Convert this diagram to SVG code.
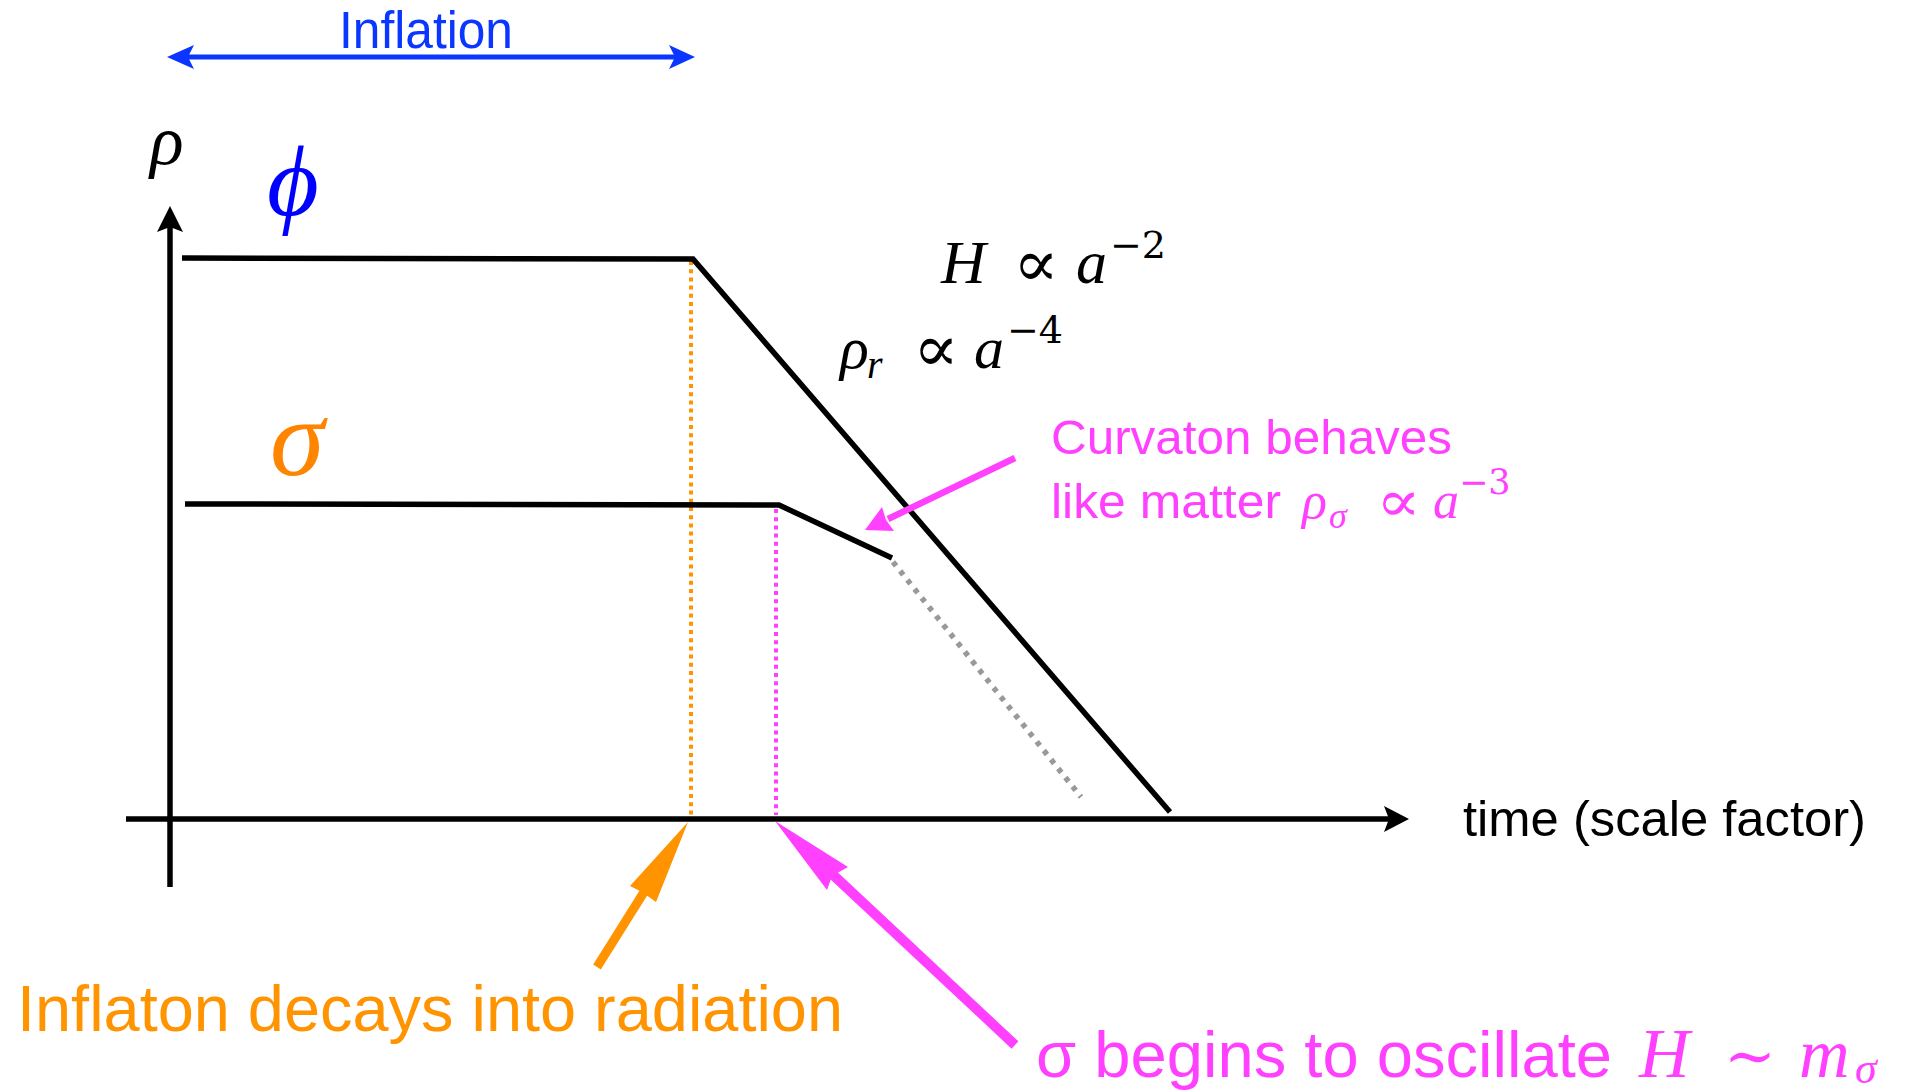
<svg xmlns="http://www.w3.org/2000/svg" width="1916" height="1091" viewBox="0 0 1916 1091">
  <style>
    .sans { font-family: "Liberation Sans", Arial, sans-serif; }
    .math { font-family: "Liberation Serif", "DejaVu Serif", serif; font-style: italic; }
    .sym { font-family: "DejaVu Serif", "Liberation Serif", serif; font-style: normal; }
    .prop { font-family: "DejaVu Sans", "DejaVu Serif", sans-serif; font-style: normal; font-weight: 200; }
    .ax { fill: none; stroke: #000; stroke-width: 5.5; }
    .curve { fill: none; stroke: #000; stroke-width: 5.5; stroke-linejoin: miter; }
    .orange { fill: #ff9300; }
    .magenta { fill: #ff40ff; }
  </style>
  <rect width="1916" height="1091" fill="#fff"/>

  <g id="axes">
    <line class="ax" x1="170" y1="226" x2="170" y2="887"/>
    <polygon points="170,206 183,232 170,227 157,232" fill="#000"/>
    <line class="ax" x1="126" y1="819" x2="1392" y2="819"/>
    <polygon points="1409,819 1384,832 1389,819 1384,806" fill="#000"/>
  </g>

  <g id="rho-label">
    <text class="math" x="150" y="164" font-size="70" fill="#000">ρ</text>
  </g>

  <g id="time-label">
    <text class="sans" x="1463" y="836" font-size="50" textLength="403" lengthAdjust="spacingAndGlyphs" fill="#000">time (scale factor)</text>
  </g>

  <g id="inflation-label">
    <text class="sans" x="339" y="48" font-size="51" textLength="174" lengthAdjust="spacingAndGlyphs" fill="#0a36ff">Inflation</text>
  </g>

  <g id="phi-label">
    <text class="math" x="293" y="215" font-size="100" text-anchor="middle" fill="#0000ff">ϕ</text>
  </g>

  <g id="sigma-label">
    <text class="math" x="297" y="475" font-size="110" text-anchor="middle" fill="#ff8500">σ</text>
  </g>

  <g id="guides">
    <line x1="691" y1="261" x2="691" y2="815" stroke="#ff9300" stroke-width="4" stroke-dasharray="4 4.2"/>
    <line x1="776" y1="509" x2="776" y2="815" stroke="#ff40ff" stroke-width="4" stroke-dasharray="4 4.2"/>
    <line x1="893" y1="562" x2="1081" y2="797" stroke="#999" stroke-width="5.5" stroke-dasharray="5 6.5"/>
  </g>

  <g id="phi-curve">
    <polyline class="curve" points="182,258 693,259 1170,812"/>
  </g>

  <g id="sigma-curve">
    <polyline class="curve" points="185,504 779,505 892,558"/>
  </g>

  <g id="hubble-label">
    <text class="math" y="283" font-size="62" fill="#000"><tspan x="941">H</tspan><tspan x="1076">a</tspan><tspan class="sym" x="1110" y="258" font-size="38">−2</tspan></text>
    <text class="prop" x="1013" y="286" font-size="66" textLength="46" lengthAdjust="spacingAndGlyphs" fill="#000">∝</text>
  </g>

  <g id="radiation-label">
    <text class="math" y="368" font-size="60" fill="#000"><tspan x="840">ρ</tspan><tspan x="867" y="378" font-size="40">r</tspan><tspan x="974" y="368">a</tspan><tspan class="sym" x="1007" y="343" font-size="38">−4</tspan></text>
    <text class="prop" x="913" y="371" font-size="66" textLength="46" lengthAdjust="spacingAndGlyphs" fill="#000">∝</text>
  </g>

  <g id="curvaton-label">
    <text class="sans magenta" x="1051" y="454" font-size="49" textLength="401" lengthAdjust="spacingAndGlyphs">Curvaton behaves</text>
    <text class="sans magenta" x="1051" y="518" font-size="49" textLength="230" lengthAdjust="spacingAndGlyphs">like matter</text>
    <text class="math magenta" y="518" font-size="52"><tspan x="1302">ρ</tspan><tspan x="1329" y="528" font-size="36">σ</tspan><tspan x="1433" y="518">a</tspan><tspan class="sym" x="1459" y="494" font-size="35">−3</tspan></text>
    <text class="prop magenta" x="1376" y="521" font-size="58" textLength="45" lengthAdjust="spacingAndGlyphs">∝</text>
  </g>

  <g id="inflaton-decay-label">
    <text class="sans orange" x="17" y="1031" font-size="64" textLength="826" lengthAdjust="spacingAndGlyphs">Inflaton decays into radiation</text>
  </g>

  <g id="oscillate-label">
    <text class="sans magenta" x="1036" y="1077" font-size="65" textLength="576" lengthAdjust="spacingAndGlyphs">σ begins to oscillate</text>
    <text class="math magenta" y="1077" font-size="70"><tspan x="1639">H</tspan><tspan class="sym" x="1724" font-size="62">∼</tspan><tspan x="1799">m</tspan><tspan x="1855" y="1083" font-size="44">σ</tspan></text>
  </g>

  <g id="connectors">
    <!-- Inflation double arrow -->
    <line x1="186" y1="57" x2="677" y2="57" stroke="#0a36ff" stroke-width="5"/>
    <polygon points="167,57 194,45 188,57 194,69" fill="#0a36ff"/>
    <polygon points="695,57 669,45 675,57 669,69" fill="#0a36ff"/>
    <!-- Curvaton arrow -->
    <line x1="1015" y1="458" x2="888" y2="519" stroke="#ff40ff" stroke-width="6.5"/>
    <polygon points="865,530 882,507 886,520 894,531" fill="#ff40ff"/>
    <!-- Inflaton decay arrow -->
    <line x1="597" y1="967" x2="644" y2="892" stroke="#ff9300" stroke-width="9"/>
    <polygon points="688,822 656,902 642,892 630,886" fill="#ff9300"/>
    <!-- Oscillation arrow -->
    <line x1="1015" y1="1045" x2="830" y2="872" stroke="#ff40ff" stroke-width="10"/>
    <polygon points="775,821 848,867 832,876 827,890" fill="#ff40ff"/>
  </g>
</svg>
